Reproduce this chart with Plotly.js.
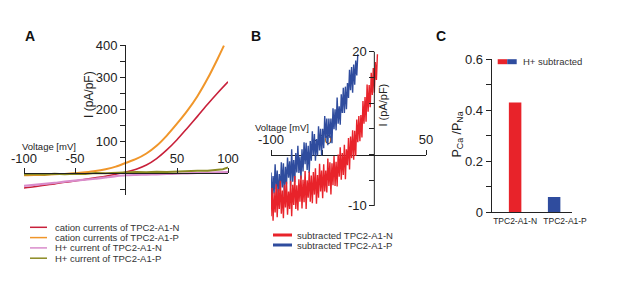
<!DOCTYPE html>
<html>
<head>
<meta charset="utf-8">
<script src="https://cdn.plot.ly/plotly-3.0.1.min.js"></script>
<style>html,body{margin:0;padding:0;background:#fff;}#chart{width:617px;height:290px;}</style>
</head>
<body>
<div id="chart"></div>
<script>
// ---------- Panel A data (I-V curves) ----------
const voltA = [-100,-90,-80,-70,-60,-50,-40,-30,-20,-10,0,10,20,30,40,50,60,70,80,90,100];
const cationN = [-47,-43,-38,-34,-29,-25,-20,-15,-10,-4,3,12,25,45,72,104,140,177,215,251,285];
const voltOrange = [-100,-90,-80,-70,-60,-50,-40,-30,-20,-10,0,10,20,30,40,50,60,70,80,90,96];
const cationP = [-7,-6,-6,-4,-3,-1,2,6,12,20,32,44,61,85,117,154,194,240,295,358,398];
const protonN = [-40,-37,-34,-31,-27,-24,-21,-18,-14,-10,-7,-6,-5,-4,-3,-2,-1,0,1,2,3];
const voltOlive = [-100,-90,-80,-70,-60,-50,-40,-30,-20,-10,0,10,20,30,40,50,60,70,80,90,95,100];
const protonP = [-5,-3,-5,-2,-4,-2,-3,0,-1,1,1,3,2,4,3,5,5,7,7,10,12,17];
const legendA = ["cation currents of TPC2-A1-N","cation currents of TPC2-A1-P","H+ current of TPC2-A1-N","H+ current of TPC2-A1-P"];
const tickA_x = [-100,-50,50,100];
const tickA_xText = ["-100","-50","50","100"];

// ---------- Panel B data (subtracted currents, noisy traces) ----------
const voltBlue = [-100,-99,-98,-97,-96,-95,-94,-93,-92,-91,-90,-89,-88,-87,-86,-85,-84,-83,-82,-81,-80,-79,-78,-77,-76,-75,-74,-73,-72,-71,-70,-69,-68,-67,-66,-65,-64,-63,-62,-61,-60,-59,-58,-57,-56,-55,-54,-53,-52,-51,-50,-49,-48,-47,-46,-45,-44,-43,-42,-41,-40,-39,-38,-37,-36,-35,-34,-33,-32,-31,-30,-29,-28,-27,-26,-25,-24,-23,-22,-21,-20,-19,-18,-17,-16];
const subP = [-3.5,-8.9,-4.2,-7.6,-1.9,-6.8,-3.1,-8.5,-3.8,-7.2,-1.5,-6.4,-1.7,-8.1,-2.4,-5.8,-0.6,-4.5,-1.3,-6.2,1,-5.3,-1.1,-5.4,0.3,-3.5,1.7,-3.6,-0.4,-4.7,1,-3.3,2.4,-1.9,2.3,-3,1.7,-3.6,2.6,-1.2,4.5,-0.2,4,-1.2,3,-0.2,5.5,0.8,5,-0.2,5,1.2,7.5,3.2,7,1.8,7,3.2,7,2.2,9,4.9,8.8,4.7,11.1,6,9.4,5.8,11.7,8.1,13,8.1,13.2,8.8,13.9,11,16.5,12.5,17,12,17.5,13.6,18.3,15.4,19.5];
const voltRed = [-100,-99,-98,-97,-96,-95,-94,-93,-92,-91,-90,-89,-88,-87,-86,-85,-84,-83,-82,-81,-80,-79,-78,-77,-76,-75,-74,-73,-72,-71,-70,-69,-68,-67,-66,-65,-64,-63,-62,-61,-60,-59,-58,-57,-56,-55,-54,-53,-52,-51,-50,-49,-48,-47,-46,-45,-44,-43,-42,-41,-40,-39,-38,-37,-36,-35,-34,-33,-32,-31,-30,-29,-28,-27,-26,-25,-24,-23,-22,-21,-20,-19,-18,-17,-16,-15,-14,-13,-12,-11,-10,-9,-8,-7,-6,-5,-4,-3,-2,-1,0,1,2,3];
const subN = [-12,-6.5,-12.9,-7.4,-11.3,-5.8,-12.2,-6.7,-10.6,-5.1,-11.5,-7,-12.4,-5.9,-10.3,-5.3,-11.7,-7.2,-10.6,-5.1,-12,-5.9,-9.8,-4.2,-10.6,-6,-10.9,-4.8,-9.2,-4.1,-10.5,-4.9,-9.3,-3.2,-10.6,-5,-8.4,-3.3,-9.2,-4.1,-9.5,-3.4,-7.8,-2.7,-9.6,-4,-8.4,-1.8,-7.2,-3.1,-8.5,-1.9,-7.2,-3.1,-7.4,-0.8,-6.1,-1.5,-7.8,-1.7,-6,-0.3,-6.1,-1.4,-6.2,0,-4.3,1.4,-4.9,0.3,-4,1.9,-4.8,1,-2.1,3.2,-2.9,3.5,-0.7,4.7,-1,4.6,-0.3,6.8,2.4,7.5,2.6,7.7,3.3,10.4,6,11.2,6.4,13.6,8.3,13.5,9.2,15.9,11.6,16.8,12,18,14.5,19.5];
const legendB = ["subtracted TPC2-A1-N","subtracted TPC2-A1-P"];
const tickB_x = [-100,-50,50];
const tickB_xText = ["-100","-50","50"];

// ---------- Panel C data (permeability ratio) ----------
const constructs = ["TPC2-A1-N","TPC2-A1-P"];
const ratioPCaPNa = [0.43, 0.06];
const legendC = "H+ subtracted";

// ---------- styling ----------
const W = 617, H = 290;
const fx = p => p / W;
const fy = p => 1 - p / H;
const FONT = "Liberation Sans, Arial, sans-serif";
const INK = "#222";
const colA = ["#c8203a","#f0962a","#d98ccb","#8b8a22"];
const colB = ["#e8232a","#2f4c9e"];

const traces = [
  {x: voltA, y: cationN, xaxis:"x", yaxis:"y", mode:"lines", line:{color:colA[0], width:1.6, shape:"spline", smoothing:0.8}, name:legendA[0], showlegend:false},
  {x: voltOrange, y: cationP, xaxis:"x", yaxis:"y", mode:"lines", line:{color:colA[1], width:2, shape:"spline", smoothing:0.8}, name:legendA[1], showlegend:false},
  {x: voltA, y: protonN, xaxis:"x", yaxis:"y", mode:"lines", line:{color:colA[2], width:2.2, shape:"spline", smoothing:0.6}, name:legendA[2], showlegend:false},
  {x: voltOlive, y: protonP, xaxis:"x", yaxis:"y", mode:"lines", line:{color:colA[3], width:2}, name:legendA[3], showlegend:false},
  {x: voltBlue, y: subP, xaxis:"x2", yaxis:"y2", mode:"lines", line:{color:colB[1], width:1.4}, name:legendB[1], showlegend:false},
  {x: voltRed, y: subN, xaxis:"x2", yaxis:"y2", mode:"lines", line:{color:colB[0], width:1.4}, name:legendB[0], showlegend:false},
  {x: constructs, y: ratioPCaPNa, xaxis:"x3", yaxis:"y3", type:"bar", width:0.32, marker:{color:[colB[0], colB[1]]}, name:legendC, showlegend:false}
];

// axis geometry (pixels)
const aY0 = 173, aK = 0.32;          // panel A: y=0 pixel, px per unit
const bY0 = 154.5, bK = 5.14;        // panel B
const bX0 = 271 + 100 * (155/150);   // panel B: x=0 pixel

const baseAx = {showgrid:false, zeroline:false, linecolor:INK, linewidth:1, tickcolor:INK, tickwidth:1, ticklen:5,
  tickfont:{family:FONT, size:13, color:INK}, fixedrange:true};

const layout = {
  width: W, height: H,
  margin: {l:0, r:0, t:0, b:0},
  paper_bgcolor: "#fff", plot_bgcolor: "rgba(0,0,0,0)",
  showlegend: false,
  font: {family: FONT, color: INK},
  xaxis: Object.assign({}, baseAx, {
    domain:[fx(24), fx(228)], range:[-100,100], anchor:"free", position:fy(aY0), side:"top",
    showline:true, ticks:"outside", tickmode:"array",
    tickvals:tickA_x, ticktext:tickA_xText
  }),
  yaxis: Object.assign({}, baseAx, {
    domain:[fy(195), fy(45)], range:[-(195-aY0)/aK, 400], anchor:"free", position:fx(125), side:"left",
    showline:true, ticks:"outside", tickmode:"array",
    tickvals:[-50,0,50,100,150,200,250,300,350,400], ticktext:["","","","100","","200","","300","","400"]
  }),
  xaxis2: Object.assign({}, baseAx, {
    domain:[fx(271), fx(426)], range:[-100,50], anchor:"free", position:fy(bY0), side:"top",
    showline:true, ticks:"outside", tickmode:"array", layer:"below traces",
    tickvals:tickB_x, ticktext:tickB_xText
  }),
  yaxis2: Object.assign({}, baseAx, {
    domain:[fy(bY0 + 14*bK), fy(bY0 - 20.6*bK)], range:[-14, 20.6], anchor:"free", position:fx(bX0), side:"left",
    showline:false, ticks:"outside", tickmode:"array",
    tickvals:[-10,-5,0,5,10,15,20], ticktext:["-10","","","","","","20"]
  }),
  xaxis3: Object.assign({}, baseAx, {
    domain:[fx(491.7), fx(571.7)], type:"category", range:[-0.6,1.45], anchor:"y3",
    showline:true, ticks:"", tickangle:0, tickmode:"array", tickvals:[0, 1.28], ticktext:constructs,
    tickfont:{family:FONT, size:8.5, color:INK}
  }),
  yaxis3: Object.assign({}, baseAx, {
    domain:[fy(212.3), fy(59)], range:[0,0.6], anchor:"x3",
    showline:true, ticks:"outside", tickmode:"array",
    tickvals:[0,0.1,0.2,0.3,0.4,0.5,0.6], ticktext:["0","","0.2","","0.4","","0.6"]
  }),
  shapes: [
    // panel B vertical axis line (from -10 to 20)
    {type:"line", xref:"x2", yref:"y2", x0:0, x1:0, y0:-10, y1:20, line:{color:INK, width:1}, layer:"above"}
  ],
  annotations: []
};

function txt(text, x, y, opts) {
  layout.annotations.push(Object.assign({text:text, x:fx(x), y:fy(y), xref:"paper", yref:"paper",
    showarrow:false, xanchor:"center", yanchor:"middle", font:{family:FONT, size:9.5, color:INK}}, opts||{}));
}
// panel letters
txt("<b>A</b>", 29.5, 36, {font:{family:FONT, size:14, color:"#111"}});
txt("<b>B</b>", 255.5, 36, {font:{family:FONT, size:14, color:"#111"}});
txt("<b>C</b>", 441, 36.5, {font:{family:FONT, size:14, color:"#111"}});
// axis titles
txt("Voltage [mV]", 49, 146, {font:{family:FONT, size:9.5, color:INK}});
txt("Voltage [mV]", 282, 127.5, {font:{family:FONT, size:9.5, color:INK}});
txt("I (pA/pF)", 89, 95, {textangle:-90, font:{family:FONT, size:12, color:INK}});
txt("I (pA/pF)", 382.5, 105, {textangle:-90, font:{family:FONT, size:11, color:INK}});
txt("P<sub>Ca</sub> /P<sub>Na</sub>", 457.5, 135, {textangle:-90, font:{family:FONT, size:12.5, color:INK}});

// legend A (manual, compact)
const rowsA = [227.3, 237.6, 247.9, 258.2];
legendA.forEach((t,i) => {
  layout.shapes.push({type:"line", xref:"paper", yref:"paper", x0:fx(30), x1:fx(47), y0:fy(rowsA[i]), y1:fy(rowsA[i]), line:{color:colA[i], width:1.5}});
  txt(t, 53, rowsA[i], {xanchor:"left", font:{family:FONT, size:9.5, color:"#333"}});
});
// legend B
const rowsB = [235, 245];
legendB.forEach((t,i) => {
  layout.shapes.push({type:"line", xref:"paper", yref:"paper", x0:fx(273), x1:fx(292), y0:fy(rowsB[i]), y1:fy(rowsB[i]), line:{color:colB[i], width:3}});
  txt(t, 295, rowsB[i], {xanchor:"left", font:{family:FONT, size:9.5, color:"#333"}});
});
// legend C (split red/blue swatch)
layout.shapes.push({type:"rect", xref:"paper", yref:"paper", x0:fx(497.7), x1:fx(507.2), y0:fy(64.2), y1:fy(59.2), line:{width:0}, fillcolor:colB[0]});
layout.shapes.push({type:"rect", xref:"paper", yref:"paper", x0:fx(507.2), x1:fx(516.7), y0:fy(64.2), y1:fy(59.2), line:{width:0}, fillcolor:colB[1]});
txt(legendC, 521, 61.7, {xanchor:"left", font:{family:FONT, size:9.5, color:"#333"}});

Plotly.newPlot("chart", traces, layout, {displayModeBar:false, staticPlot:true});
</script>
</body>
</html>
